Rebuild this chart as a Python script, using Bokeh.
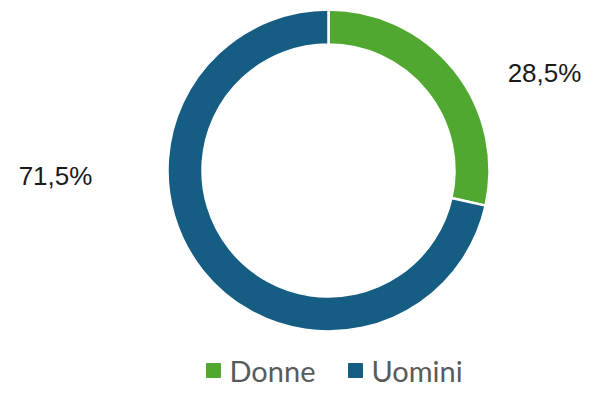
import math
from bokeh.plotting import figure
from bokeh.models import ColumnDataSource
from bokeh.core.properties import value
from bokeh.embed import file_html
from bokeh.resources import INLINE

# Data
categories = ["Donne", "Uomini"]
shares = [28.5, 71.5]
labels = ["28,5%", "71,5%"]
colors = ["#50A830", "#165D84"]

W, H = 584, 390
p = figure(width=W, height=H, x_range=(0, W), y_range=(0, H),
           output_backend="svg", toolbar_location=None, min_border=0)
p.axis.visible = False
p.grid.visible = False
p.outline_line_color = None
p.background_fill_color = "white"

# layout constants (pixel units)
cx, cy = 328, 220
r_out, r_in = 161, 126

total = sum(shares)
start = math.pi / 2
starts, ends = [], []
for s in shares:
    a = 2 * math.pi * s / total
    starts.append(start - a)
    ends.append(start)
    start -= a

src = ColumnDataSource(dict(cat=categories, start=starts, end=ends, color=colors))
p.annular_wedge(x=cx, y=cy, inner_radius=r_in, outer_radius=r_out,
                start_angle="start", end_angle="end",
                fill_color="color", line_color="white", line_width=2.5,
                source=src)

# value labels
label_x = [544, 55]
label_y = [318, 215]
p.text(x=label_x, y=label_y, text=labels, text_font=value("Liberation Sans"),
       text_font_size="26px", text_color="#1a1a1a", text_align="center",
       text_baseline="middle")

# legend (drawn manually)
leg_sq_x = [213, 355]
leg_txt_x = [229, 371]
leg_y = 20
p.scatter(x=leg_sq_x, y=[leg_y] * 2, marker="square", size=14,
          fill_color=colors, line_color=colors)
p.text(x=leg_txt_x, y=[leg_y] * 2, text=categories, text_font=value("Lato"),
       text_font_size="29px", text_color="#5a5a5a", text_align="left",
       text_baseline="middle")

open("out.html", "w").write(file_html(p, INLINE))
